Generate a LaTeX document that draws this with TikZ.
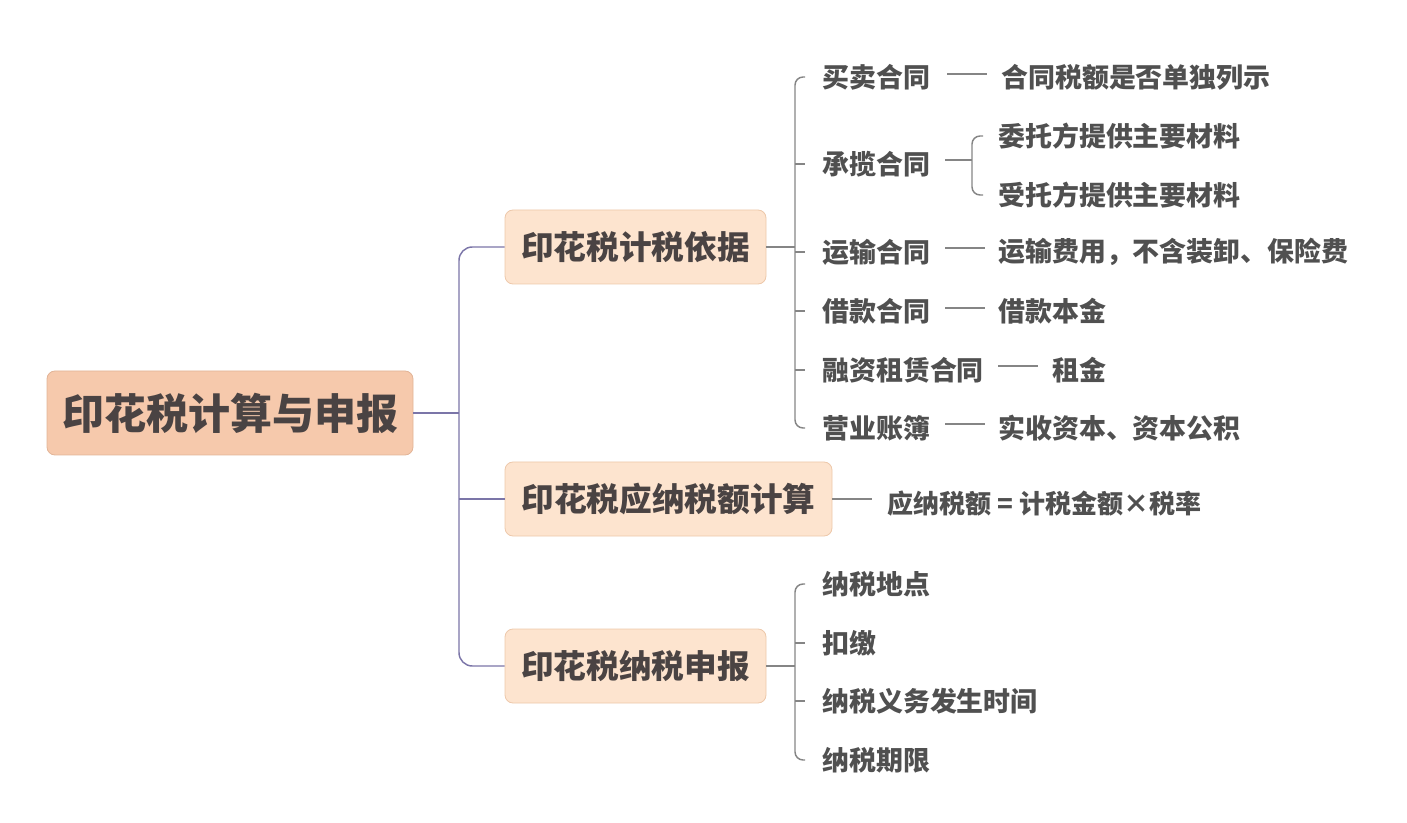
\documentclass[tikz,border=0pt]{standalone}
\usepackage{fontspec}
\setmainfont{Noto Sans CJK SC}
\usetikzlibrary{calc}
\definecolor{txt}{HTML}{4A4343}
\definecolor{leaftxt}{HTML}{505050}
\definecolor{rootfill}{HTML}{F6C9AC}
\definecolor{rootdraw}{HTML}{E2B497}
\definecolor{lonefill}{HTML}{FDE4CF}
\definecolor{lonedraw}{HTML}{EDC8AA}
\definecolor{purp}{HTML}{7B75A8}
\definecolor{grayline}{HTML}{858585}
\tikzset{
  rootbox/.style={draw=rootdraw, fill=rootfill, rounded corners=6pt, line width=0.6pt,
    text=txt, font=\fontsize{31.5}{34}\selectfont\bfseries, minimum width=366*0.75pt, minimum height=84*0.75pt, inner sep=0pt},
  lonebox/.style={draw=lonedraw, fill=lonefill, rounded corners=6pt, line width=0.6pt,
    text=txt, font=\fontsize{24.5}{27}\selectfont\bfseries, minimum height=74*0.75pt, inner sep=0pt},
  leaf/.style={anchor=west, inner sep=0pt, text=leaftxt, font=\fontsize{20.2}{22}\selectfont\bfseries},
  pline/.style={draw=purp, line width=1.1pt, rounded corners=10pt},
  gline/.style={draw=grayline, line width=1.1pt, rounded corners=6pt},
}
\begin{document}
\begin{tikzpicture}[x=0.75pt, y=-0.75pt]
\useasboundingbox (0,0) rectangle (1407,823);
% root and level-1
\node[rootbox] (root) at (230,413) {印花税计算与申报};
\node[lonebox, minimum width=261*0.75pt] (A) at (635.5,247) {印花税计税依据};
\node[lonebox, minimum width=327*0.75pt] (B) at (668.5,499) {印花税应纳税额计算};
\node[lonebox, minimum width=261*0.75pt] (C) at (635.5,666) {印花税纳税申报};
\coordinate (rj) at (459,413);
\draw[pline] (root.east) -- (rj);
\draw[pline] (A.west) -- (459,247) -- (459,666) -- (C.west);
\draw[pline] (459,499) -- (B.west);

% group A leaves
\node[leaf] (a1) at (822,77) {买卖合同};
\node[leaf] (a2) at (822,164) {承揽合同};
\node[leaf] (a3) at (822,252) {运输合同};
\node[leaf] (a4) at (822,311) {借款合同};
\node[leaf] (a5) at (822,370) {融资租赁合同};
\node[leaf] (a6) at (822,428) {营业账簿};
\coordinate (ja) at (795,247);
\draw[gline] (A.east) -- (ja);
\draw[gline] ($(a1.west)+(-17,0)$) -- (795,77) -- (795,428) -- ($(a6.west)+(-17,0)$);
\foreach \n in {a2,a3,a4,a5}{
  \draw[gline] (795,0 |- \n.west) -- ($(\n.west)+(-17,0)$);
}

% third level
\node[leaf] (a1x) at (1001,77) {合同税额是否单独列示};
\draw[gline] (947,74) -- ($(a1x.west)+(-14,-3)$);

\node[leaf] (a2x) at (998,136) {委托方提供主要材料};
\node[leaf] (a2y) at (998,195) {受托方提供主要材料};
\draw[gline] (945,160) -- (972,160);
\draw[gline] ($(a2x.west)+(-15,0)$) -- (972,136) -- (972,195) -- ($(a2y.west)+(-15,0)$);

\node[leaf] (a3x) at (998,252) {运输费用，不含装卸、保险费};
\draw[gline] (945,248) -- ($(a3x.west)+(-13,-4)$);

\node[leaf] (a4x) at (998,311) {借款本金};
\draw[gline] (945,308) -- ($(a4x.west)+(-13,-3)$);

\node[leaf] (a5x) at (1052,370) {租金};
\draw[gline] (998,366) -- ($(a5x.west)+(-14,-4)$);

\node[leaf] (a6x) at (998,428) {实收资本、资本公积};
\draw[gline] (945,424) -- ($(a6x.west)+(-13,-4)$);

% group B
\node[leaf, font=\fontsize{19.5}{22}\selectfont\bfseries] (b1) at (887,504) {应纳税额 = 计税金额×税率};
\draw[gline] (B.east) -- (872,499);

% group C
\node[leaf] (c1) at (822,584) {纳税地点};
\node[leaf] (c2) at (822,643) {扣缴};
\node[leaf] (c3) at (822,701) {纳税义务发生时间};
\node[leaf] (c4) at (822,760) {纳税期限};
\coordinate (jc) at (795,666);
\draw[gline] (C.east) -- (jc);
\draw[gline] ($(c1.west)+(-17,0)$) -- (795,584) -- (795,760) -- ($(c4.west)+(-17,0)$);
\foreach \n in {c2,c3}{
  \draw[gline] (795,0 |- \n.west) -- ($(\n.west)+(-17,0)$);
}
\end{tikzpicture}
\end{document}
